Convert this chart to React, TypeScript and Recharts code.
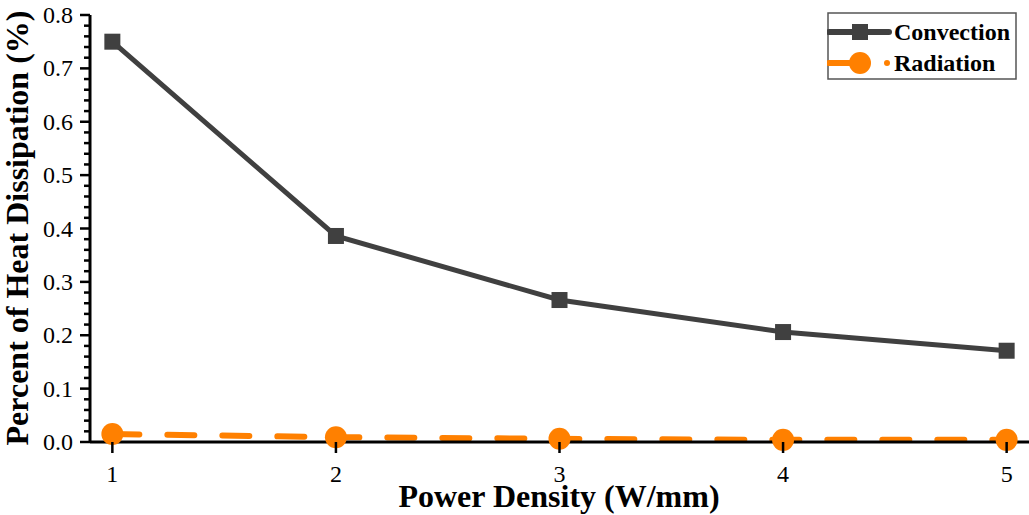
import { LineChart, Line, XAxis, YAxis, Legend } from 'recharts';

// power density (W/mm)
const powerDensity = [1, 2, 3, 4, 5];
const convection = [0.75, 0.386, 0.266, 0.206, 0.171];
const radiation = [0.015, 0.009, 0.006, 0.004, 0.004];

const xTicks = [1, 2, 3, 4, 5];
const yMajorTicks = [0, 0.1, 0.2, 0.3, 0.4, 0.5, 0.6, 0.7, 0.8];
const yMinorPerMajor = 5;

const CONV_COLOR = '#404040';
const RAD_COLOR = '#ff8000';
const FONT = '"Liberation Serif", "Times New Roman", serif';

const data = powerDensity.map((x, i) => ({ x, convection: convection[i], radiation: radiation[i] }));

// majors plus minor subdivisions for the y axis
const yTicks: number[] = [];
yMajorTicks.forEach((v, i) => {
  if (i === yMajorTicks.length - 1) {
    yTicks.push(v);
    return;
  }
  const step = (yMajorTicks[i + 1] - v) / yMinorPerMajor;
  for (let k = 0; k < yMinorPerMajor; k++) yTicks.push(Math.round((v + k * step) * 1000) / 1000);
});

const isMajor = (v: number) => yMajorTicks.some((m) => Math.abs(m - v) < 1e-6);

const YTick = (props: any) => {
  const { x, y, payload } = props;
  const major = isMajor(payload.value);
  return (
    <g>
      <line x1={x} x2={x - (major ? 10 : 6)} y1={y} y2={y} stroke="#000" strokeWidth={2.5} />
      {major && (
        <text x={x - 17} y={y + 8} textAnchor="end" fontFamily={FONT} fontSize={24} fill="#000">
          {payload.value.toFixed(1)}
        </text>
      )}
    </g>
  );
};

const XTick = (props: any) => {
  const { x, y, payload } = props;
  return (
    <g>
      <line x1={x} x2={x} y1={y} y2={y + 11} stroke="#000" strokeWidth={2.5} />
      <text x={x} y={y + 40} textAnchor="middle" fontFamily={FONT} fontSize={24} fill="#000">
        {payload.value}
      </text>
    </g>
  );
};

const SquareDot = (props: any) => {
  const { cx, cy, index } = props;
  return <rect key={`sq-${index}`} x={cx - 8} y={cy - 8} width={16} height={16} fill={CONV_COLOR} />;
};

const CircleDot = (props: any) => {
  const { cx, cy, index } = props;
  return <circle key={`ci-${index}`} cx={cx} cy={cy} r={11} fill={RAD_COLOR} />;
};

const renderLegend = () => (
  <svg width={190} height={68} style={{ display: 'block' }}>
    <rect x={1} y={1} width={188} height={66} fill="#fff" stroke="#555" strokeWidth={1.5} />
    <line x1={2} x2={62} y1={20} y2={20} stroke={CONV_COLOR} strokeWidth={6} strokeLinecap="round" />
    <rect x={25} y={12} width={16} height={16} fill={CONV_COLOR} />
    <text x={67} y={28} fontFamily={FONT} fontWeight="bold" fontSize={24} fill="#000">Convection</text>
    <line x1={2} x2={24} y1={51} y2={51} stroke={RAD_COLOR} strokeWidth={6} strokeLinecap="round" />
    <circle cx={33} cy={51} r={11} fill={RAD_COLOR} />
    <circle cx={60} cy={51} r={3} fill={RAD_COLOR} />
    <text x={67} y={59} fontFamily={FONT} fontWeight="bold" fontSize={24} fill="#000">Radiation</text>
  </svg>
);

const App = () => {
  return (
    <div style={{ position: 'absolute', left: 0, top: 0, width: 1029, height: 515, background: '#fff' }}>
      <LineChart width={1029} height={515} data={data} margin={{ top: 15, right: 0, bottom: 0, left: 0 }}>
        <XAxis
          dataKey="x"
          type="number"
          domain={[0.9, 5.1]}
          ticks={xTicks}
          interval={0}
          axisLine={{ stroke: '#000', strokeWidth: 3 }}
          tickLine={false}
          tickSize={0}
          tickMargin={0}
          tick={<XTick />}
          height={73}
          label={() => (
            <text x={559} y={507} textAnchor="middle" fontFamily={FONT} fontWeight="bold" fontSize={32} fill="#000">
              Power Density (W/mm)
            </text>
          )}
        />
        <YAxis
          type="number"
          domain={[0, 0.8]}
          ticks={yTicks}
          interval={0}
          width={90}
          axisLine={{ stroke: '#000', strokeWidth: 3 }}
          tickLine={false}
          tickSize={0}
          tickMargin={0}
          tick={<YTick />}
          label={() => (
            <text
              x={28}
              y={228}
              transform="rotate(-90 28 228)"
              textAnchor="middle"
              fontFamily={FONT}
              fontWeight="bold"
              fontSize={32}
              fill="#000"
            >
              Percent of Heat Dissipation (%)
            </text>
          )}
        />
        <Legend
          layout="vertical"
          align="center"
          verticalAlign="middle"
          content={renderLegend}
          wrapperStyle={{ left: 827, top: 12, width: 190, height: 68 }}
        />
        <Line
          type="linear"
          dataKey="convection"
          stroke={CONV_COLOR}
          strokeWidth={5}
          dot={SquareDot}
          activeDot={false}
          isAnimationActive={false}
        />
        <Line
          type="linear"
          dataKey="radiation"
          stroke={RAD_COLOR}
          strokeWidth={6}
          strokeDasharray="27 28"
          strokeLinecap="round"
          dot={CircleDot}
          activeDot={false}
          isAnimationActive={false}
        />
      </LineChart>
    </div>
  );
};

export default App;
